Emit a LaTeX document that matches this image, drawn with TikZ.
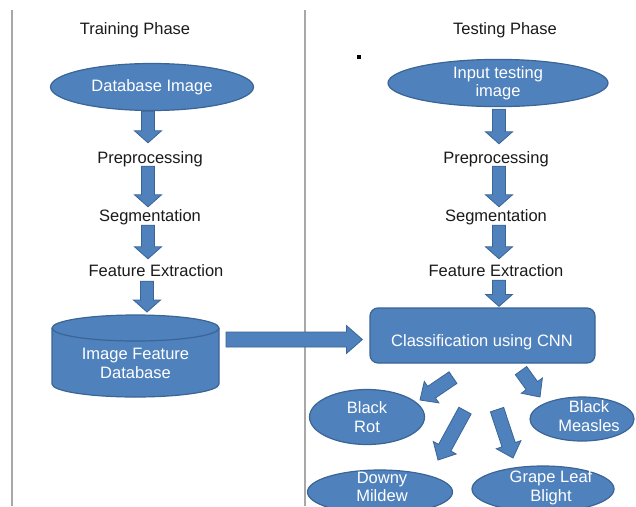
\documentclass[tikz,border=0pt]{standalone}
\usepackage{fontspec}
\setmainfont{Liberation Sans}
\usetikzlibrary{shapes.geometric,calc}
\definecolor{fillblue}{HTML}{4F81BD}
\definecolor{edgeblue}{HTML}{3A6595}
\definecolor{framegray}{HTML}{A8A8A8}
\definecolor{txtblack}{HTML}{1A1A1A}

\tikzset{
  shp/.style={fill=fillblue, draw=edgeblue, line width=1.2pt},
  ell/.style={shp, ellipse, inner sep=0pt, text=white, align=center,
    font=\fontsize{16.5}{19.5}\selectfont},
  wtxt/.style={text=white, align=center, inner sep=0pt,
    font=\fontsize{16.5}{19}\selectfont},
  lbl/.style={text=txtblack, inner sep=0pt, text height=12pt, text depth=0pt,
    font=\fontsize{16.5}{19.5}\selectfont},
  blockarrow/.style={fill=fillblue, draw=edgeblue, line width=0.8pt, line join=miter},
  framerule/.style={draw=framegray, line width=1.5pt}
}

% #1 start, #2 tip, #3 half shaft width, #4 half head width, #5 head length
\newcommand\barrow[5]{%
  \coordinate (ba-s) at #1;
  \coordinate (ba-t) at #2;
  \coordinate (ba-h) at ($(ba-t)!#5!(ba-s)$);
  \filldraw[blockarrow] ($(ba-s)!#3!90:(ba-t)$) -- ($(ba-h)!#3!90:(ba-t)$)
    -- ($(ba-h)!#4!90:(ba-t)$) -- (ba-t) -- ($(ba-h)!#4!-90:(ba-t)$)
    -- ($(ba-h)!#3!-90:(ba-t)$) -- ($(ba-s)!#3!-90:(ba-t)$) -- cycle;
}

\begin{document}
\begin{tikzpicture}[x=1pt,y=1pt]
\useasboundingbox (0,0) rectangle (636,-506);
\fill[white] (0,0) rectangle (636,-506);
\clip (0,0) rectangle (636,-506);

% frame and divider
\draw[framerule] (12,-10) -- (12,-506);
\draw[framerule] (305,-10) -- (305,-506);

% titles
\node[lbl] (ttrain) at (135,-28) {Training Phase};
\node[lbl] (ttest) at (505,-28) {Testing Phase};
\fill[black] (357,-55) rectangle (361,-59);

% ---------- training column ----------
\node[ell, minimum width=203pt, minimum height=47pt] (dbimg) at (152,-87) {Database Image};
\node[lbl] (pre1) at (150,-157) {Preprocessing};
\node[lbl] (seg1) at (150,-215) {Segmentation};
\node[lbl] (fe1) at (156,-270) {Feature Extraction};

% cylinder
\filldraw[shp] (52,-328) -- (52,-384)
  arc[start angle=180,end angle=360,x radius=83.5pt,y radius=13pt]
  -- (219,-328)
  arc[start angle=0,end angle=180,x radius=83.5pt,y radius=13pt] -- cycle;
\draw[shp, fill=none] (52,-328)
  arc[start angle=180,end angle=360,x radius=83.5pt,y radius=13pt];
\node[wtxt] (ifdb) at (135.5,-363) {Image Feature\\Database};
\coordinate (cyltop) at (135.5,-315);
\coordinate (cylout) at (226,-339.5);

\barrow{($(dbimg.south)+(-4,0)$)}{($(pre1.north)+(-2,8)$)}{6.5pt}{13.5pt}{12pt}
\barrow{($(pre1.south)+(-2,-3)$)}{($(seg1.north)+(-2,2)$)}{6.5pt}{13.5pt}{12pt}
\barrow{($(seg1.south)+(-2,-4)$)}{($(fe1.north)+(-8,5)$)}{6.5pt}{13.5pt}{12pt}
\barrow{($(fe1.south)+(-9,-5)$)}{($(cyltop)+(11.5,3)$)}{6.5pt}{13.5pt}{12pt}

% ---------- testing column ----------
\node[ell, minimum width=220pt, minimum height=40pt, font=\fontsize{16.5}{18}\selectfont] (inp) at (498,-83) {Input testing\\image};
\node[lbl] (pre2) at (496,-157) {Preprocessing};
\node[lbl] (seg2) at (496,-215) {Segmentation};
\node[lbl] (fe2) at (496,-270) {Feature Extraction};
\node[shp, rounded corners=8pt, minimum width=225pt, minimum height=55pt, inner sep=0pt] (cnn) at (482.5,-335.5) {};
\node[lbl, text=white] (cnntxt) at (482,-340) {Classification using CNN};

\barrow{($(inp.south)+(1,-2)$)}{($(pre2.north)+(3,7)$)}{6.5pt}{13.5pt}{12pt}
\barrow{($(pre2.south)+(3,-3)$)}{($(seg2.north)+(3,2)$)}{6.5pt}{13.5pt}{12pt}
\barrow{($(seg2.south)+(3,-4)$)}{($(fe2.north)+(3,5)$)}{6.5pt}{13.5pt}{12pt}
\barrow{($(fe2.south)+(3,-4)$)}{($(cnn.north)+(16.5,1)$)}{6.5pt}{13.5pt}{12pt}

% horizontal arrow
\barrow{(cylout)}{($(cnn.west)+(-7,-4)$)}{7.5pt}{14pt}{16pt}

% result classes
\node[ell, minimum width=115pt, minimum height=55pt] (br) at (367,-417) {Black\\Rot};
\node[shp, ellipse, minimum width=104pt, minimum height=44pt, inner sep=0pt] (bm) at (582,-419) {};
\node[wtxt] (bmtxt) at (589,-416) {Black\\Measles};
\node[shp, ellipse, minimum width=145pt, minimum height=44pt, inner sep=0pt] (dm) at (380,-492) {};
\node[wtxt, font=\fontsize{16.5}{18}\selectfont] (dmtxt) at (382,-487) {Downy\\Mildew};
\node[shp, ellipse, minimum width=142pt, minimum height=46pt, inner sep=0pt] (gl) at (543,-489) {};
\node[wtxt] (gltxt) at (551,-488) {Grape Leaf\\Blight};

\barrow{($(cnn.south)+(-29.5,-14)$)}{($(br)+(53,17)$)}{7pt}{13pt}{14pt}
\barrow{($(cnn.south)+(38.5,-7)$)}{($(bm)+(-42,22)$)}{7pt}{13pt}{14pt}
\barrow{($(cnn.south)+(-17.5,-47)$)}{($(dm)+(58,32)$)}{7pt}{13pt}{14pt}
\barrow{($(cnn.south)+(14.5,-46)$)}{($(gl)+(-30,31)$)}{7pt}{13pt}{14pt}
\end{tikzpicture}
\end{document}
